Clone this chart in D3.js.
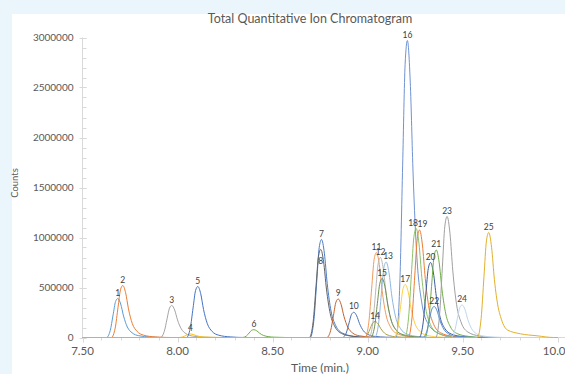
<!DOCTYPE html>
<html>
<head>
<meta charset="utf-8">
<script src="https://cdn.jsdelivr.net/npm/d3@7"></script>
<style>
  html, body { margin: 0; padding: 0; background: #eaf5fc; }
  svg { display: block; }
  text { font-family: Lato, "Noto Sans", sans-serif; }
</style>
</head>
<body>
<div id="chart"></div>
<script>
// data
const chartTitle = "Total Quantitative Ion Chromatogram";
const xTitle = "Time (min.)";
const yTitle = "Counts";
const xTicks = [7.5, 8.0, 8.5, 9.0, 9.5, 10.0];
const yTicks = [0, 500000, 1000000, 1500000, 2000000, 2500000, 3000000];
const baselineRange = [7.5, 10.0];

const peakLabels = ["1","2","3","4","5","6","7","8","9","10","11","12","13",
  "14","15","16","17","18","19","20","21","22","23","24","25"];

const peakColors = ["#5b9bd5","#ed7d31","#a5a5a5","#ffc000","#4472c4","#70ad47",
  "#4a7cc7","#636363","#c0622c","#4a6fb5","#f19a5e","#b9b9b9","#8fb8e0",
  "#a89f46","#6f8f4f","#6f93d3","#ffcf40","#8cc168","#ed7d31","#3a5da0",
  "#70ad47","#5b8fd0","#a0a0a0","#bdd7ee","#e2b02c"];

// [time, counts] for each trace
const peakTraces = [
  [[7.626,0],[7.646,70000],[7.661,226000],[7.674,359000],[7.686,390000],[7.701,335000],[7.716,215000],[7.736,105000],[7.761,47000],[7.796,18000],[7.856,5000],[7.936,0]],
  [[7.652,0],[7.672,94000],[7.687,302000],[7.700,478000],[7.712,520000],[7.727,447000],[7.742,286000],[7.762,140000],[7.787,62000],[7.822,23000],[7.882,6000],[7.962,0]],
  [[7.910,0],[7.930,58000],[7.945,186000],[7.958,294000],[7.970,320000],[7.985,275000],[8.000,176000],[8.020,86000],[8.045,38000],[8.080,14000],[8.140,4000],[8.220,0]],
  [[8.008,0],[8.028,6000],[8.043,20000],[8.056,32000],[8.068,35000],[8.083,30000],[8.098,19000],[8.118,9000],[8.143,4000],[8.178,2000],[8.238,0]],
  [[8.047,0],[8.067,92000],[8.082,296000],[8.095,469000],[8.107,510000],[8.122,439000],[8.137,281000],[8.157,138000],[8.182,61000],[8.217,23000],[8.277,6000],[8.357,0]],
  [[8.342,0],[8.362,14000],[8.377,45000],[8.390,72000],[8.402,78000],[8.417,67000],[8.432,43000],[8.452,21000],[8.477,9000],[8.512,3000],[8.572,0]],
  [[8.698,0],[8.718,176000],[8.733,568000],[8.746,902000],[8.758,980000],[8.773,843000],[8.788,539000],[8.808,265000],[8.833,118000],[8.868,44000],[8.928,12000],[9.008,0]],
  [[8.694,0],[8.714,158000],[8.729,510000],[8.742,810000],[8.754,880000],[8.769,757000],[8.784,484000],[8.804,238000],[8.829,106000],[8.864,40000],[8.924,11000],[9.004,0]],
  [[8.786,0],[8.806,69000],[8.821,223000],[8.834,354000],[8.846,385000],[8.861,331000],[8.876,212000],[8.896,104000],[8.921,46000],[8.956,17000],[9.016,5000],[9.096,0]],
  [[8.868,0],[8.888,45000],[8.903,146000],[8.916,232000],[8.928,252000],[8.943,217000],[8.958,139000],[8.978,68000],[9.003,30000],[9.038,11000],[9.098,3000],[9.178,0]],
  [[8.987,0],[9.007,153000],[9.022,493000],[9.035,782000],[9.047,850000],[9.062,731000],[9.077,468000],[9.097,230000],[9.122,102000],[9.157,38000],[9.217,10000],[9.297,0]],
  [[9.008,0],[9.028,144000],[9.043,464000],[9.056,736000],[9.068,800000],[9.083,688000],[9.098,440000],[9.118,216000],[9.143,96000],[9.178,36000],[9.238,10000],[9.318,0]],
  [[9.038,0],[9.058,136000],[9.073,438000],[9.086,695000],[9.098,755000],[9.113,649000],[9.128,415000],[9.148,204000],[9.173,91000],[9.208,34000],[9.268,9000],[9.348,0]],
  [[8.980,0],[9.000,29000],[9.015,93000],[9.028,147000],[9.040,160000],[9.055,138000],[9.070,88000],[9.090,43000],[9.115,19000],[9.150,7000],[9.210,2000],[9.290,0]],
  [[9.017,0],[9.037,106000],[9.052,342000],[9.065,543000],[9.077,590000],[9.092,507000],[9.107,325000],[9.127,159000],[9.152,71000],[9.187,27000],[9.247,7000],[9.327,0]],
  [[9.150,0],[9.170,535000],[9.185,1723000],[9.198,2732000],[9.210,2970000],[9.225,2554000],[9.240,1634000],[9.260,802000],[9.285,356000],[9.320,134000],[9.380,36000],[9.460,0]],
  [[9.139,0],[9.159,95000],[9.174,307000],[9.187,488000],[9.199,530000],[9.214,456000],[9.229,292000],[9.249,143000],[9.274,64000],[9.309,24000],[9.369,6000],[9.449,0]],
  [[9.196,0],[9.216,196000],[9.231,632000],[9.244,1003000],[9.256,1090000],[9.271,937000],[9.286,600000],[9.306,294000],[9.331,131000],[9.366,49000],[9.426,13000],[9.506,0]],
  [[9.214,0],[9.234,194000],[9.249,624000],[9.262,989000],[9.274,1075000],[9.289,925000],[9.304,591000],[9.324,290000],[9.349,129000],[9.384,48000],[9.444,13000],[9.524,0]],
  [[9.272,0],[9.292,135000],[9.307,435000],[9.320,690000],[9.332,750000],[9.347,645000],[9.362,413000],[9.382,203000],[9.407,90000],[9.442,34000],[9.502,9000],[9.582,0]],
  [[9.302,0],[9.322,158000],[9.337,508000],[9.350,805000],[9.362,875000],[9.377,753000],[9.392,481000],[9.412,236000],[9.437,105000],[9.472,39000],[9.532,11000],[9.612,0]],
  [[9.291,0],[9.311,56000],[9.326,180000],[9.339,285000],[9.351,310000],[9.366,267000],[9.381,171000],[9.401,84000],[9.426,37000],[9.461,14000],[9.521,4000],[9.601,0]],
  [[9.359,0],[9.379,218000],[9.394,702000],[9.407,1113000],[9.419,1210000],[9.434,1041000],[9.449,666000],[9.469,327000],[9.494,145000],[9.529,54000],[9.589,15000],[9.669,0]],
  [[9.438,0],[9.458,59000],[9.473,189000],[9.486,299000],[9.498,325000],[9.513,280000],[9.528,179000],[9.548,88000],[9.573,39000],[9.608,15000],[9.668,4000],[9.748,0]],
  [[9.578,0],[9.598,189000],[9.613,609000],[9.626,966000],[9.638,1050000],[9.653,903000],[9.668,578000],[9.688,300000],[9.700,210000],[9.735,77000],[9.805,37000],[9.893,17000],[9.980,0]]
];

const W = 565, H = 374;
const margin = { top: 37.5, left: 82.5, bottom: 36.5 };

const svg = d3.select("#chart").append("svg")
  .attr("width", W)
  .attr("height", H);

// white chart panel
svg.append("rect")
  .attr("x", 12).attr("y", 14)
  .attr("width", W).attr("height", H)
  .attr("fill", "#fff");

const x = d3.scaleLinear().domain([7.5, 10.0]).range([margin.left, 557.5]);
const y = d3.scaleLinear().domain([0, 3000000]).range([H - margin.bottom, margin.top]);

const axisColor = "#d9d9d9";
const textColor = "#595959";

// y axis
const yAxis = svg.append("g").attr("class", "y axis");
yAxis.append("line")
  .attr("x1", margin.left).attr("x2", margin.left)
  .attr("y1", y(3000000)).attr("y2", y(0))
  .attr("stroke", axisColor);

yAxis.selectAll(".minor")
  .data(d3.range(0, 3000001, 100000))
  .enter().append("line")
  .attr("x1", margin.left).attr("x2", margin.left + 4)
  .attr("y1", d => Math.round(y(d)) + 0.5)
  .attr("y2", d => Math.round(y(d)) + 0.5)
  .attr("stroke", axisColor);

yAxis.selectAll(".major")
  .data(yTicks)
  .enter().append("line")
  .attr("x1", margin.left - 3).attr("x2", margin.left + 4)
  .attr("y1", d => Math.round(y(d)) + 0.5)
  .attr("y2", d => Math.round(y(d)) + 0.5)
  .attr("stroke", axisColor);

yAxis.selectAll("text")
  .data(yTicks)
  .enter().append("text")
  .attr("x", margin.left - 9)
  .attr("y", d => y(d))
  .attr("dy", "0.35em")
  .attr("text-anchor", "end")
  .attr("font-size", 10)
  .attr("fill", textColor)
  .text(d => d);

// x axis
const xAxis = svg.append("g").attr("class", "x axis");
xAxis.append("line")
  .attr("x1", margin.left).attr("x2", W)
  .attr("y1", y(0)).attr("y2", y(0))
  .attr("stroke", axisColor);

xAxis.selectAll(".minor")
  .data(d3.range(75, 101, 1).map(d => d / 10))
  .enter().append("line")
  .attr("x1", d => Math.round(x(d)) + 0.5)
  .attr("x2", d => Math.round(x(d)) + 0.5)
  .attr("y1", y(0)).attr("y2", y(0) + 3)
  .attr("stroke", axisColor);

xAxis.selectAll(".major")
  .data(xTicks)
  .enter().append("line")
  .attr("x1", d => Math.round(x(d)) + 0.5)
  .attr("x2", d => Math.round(x(d)) + 0.5)
  .attr("y1", y(0)).attr("y2", y(0) + 5)
  .attr("stroke", axisColor);

xAxis.selectAll("text")
  .data(xTicks)
  .enter().append("text")
  .attr("x", d => x(d))
  .attr("y", y(0) + 17)
  .attr("text-anchor", "middle")
  .attr("font-size", 11.5)
  .attr("fill", textColor)
  .text(d => d.toFixed(2));

// traces
const line = d3.line()
  .x(d => x(d[0]))
  .y(d => y(d[1]))
  .curve(d3.curveMonotoneX);

const traces = svg.append("g").attr("class", "traces");
peakTraces.forEach((pts, i) => {
  const full = [[baselineRange[0], 0], ...pts, [baselineRange[1], 0]];
  traces.append("path")
    .datum(full)
    .attr("fill", "none")
    .attr("stroke", peakColors[i])
    .attr("stroke-width", 1)
    .attr("d", line);
});

// peak number labels above each apex
const nudge = { "8": [0, 17], "13": [2, 0], "18": [-3, 0], "19": [3, 0] };
const labels = svg.append("g").attr("class", "peak-labels");
peakTraces.forEach((pts, i) => {
  const apex = pts.reduce((a, b) => (b[1] > a[1] ? b : a));
  const n = nudge[peakLabels[i]] || [0, 0];
  labels.append("text")
    .attr("x", x(apex[0]) + n[0])
    .attr("y", y(apex[1]) - 3 + n[1])
    .attr("text-anchor", "middle")
    .attr("font-size", 8.5)
    .attr("fill", "#404040")
    .text(peakLabels[i]);
});

// titles
svg.append("text")
  .attr("x", 310).attr("y", 19)
  .attr("dy", "0.35em")
  .attr("text-anchor", "middle")
  .attr("font-size", 12.5)
  .attr("fill", textColor)
  .text(chartTitle);

svg.append("text")
  .attr("x", 320).attr("y", 368)
  .attr("dy", "0.35em")
  .attr("text-anchor", "middle")
  .attr("font-size", 12)
  .attr("fill", textColor)
  .text(xTitle);

svg.append("text")
  .attr("transform", "translate(15,183) rotate(-90)")
  .attr("dy", "0.35em")
  .attr("text-anchor", "middle")
  .attr("font-size", 9.5)
  .attr("fill", textColor)
  .text(yTitle);
</script>
</body>
</html>
